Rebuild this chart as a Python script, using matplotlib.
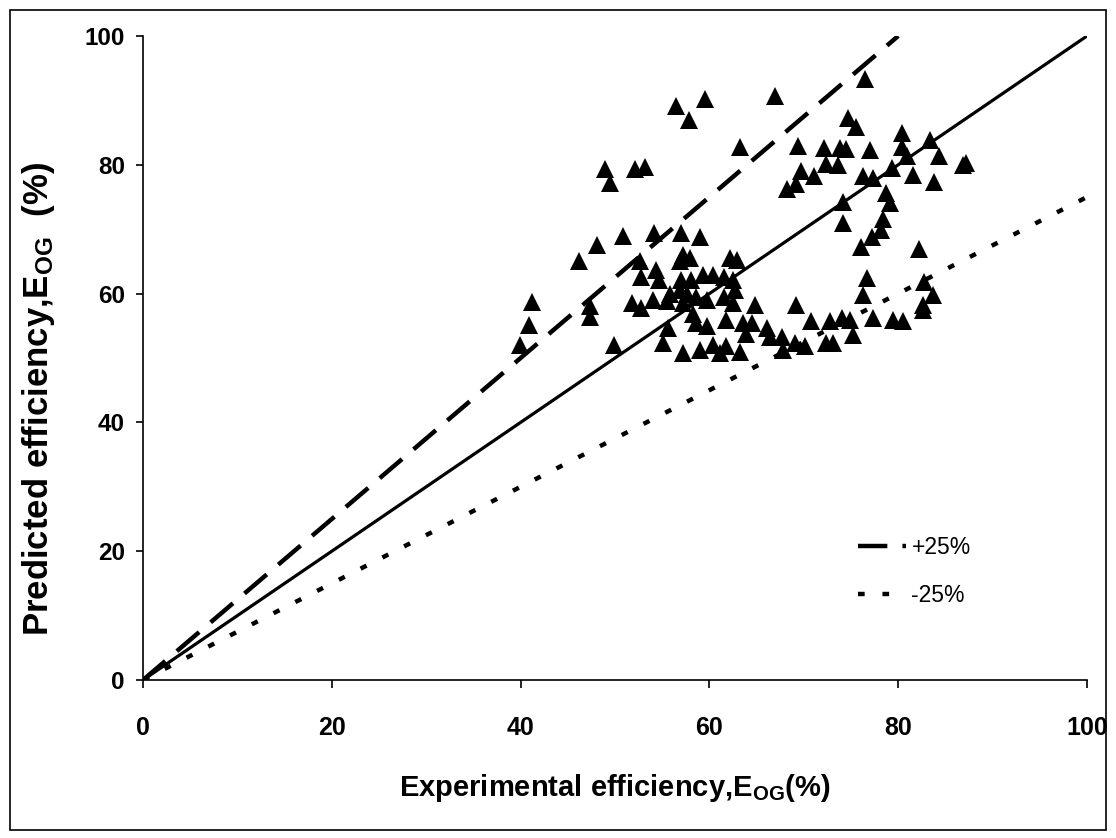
import matplotlib
matplotlib.use("Agg")
import matplotlib.pyplot as plt
from matplotlib.patches import Rectangle

plt.rcParams['font.family'] = ['Liberation Sans', 'DejaVu Sans']
plt.rcParams['mathtext.fontset'] = 'custom'
plt.rcParams['mathtext.rm'] = 'Liberation Sans:bold'
plt.rcParams['mathtext.default'] = 'regular'

# Experimental (x) vs predicted (y) efficiency, %
exp_eff = [39.9, 40.9, 41.2, 46.2, 48.1, 50.8, 54.1, 57.0, 59.0, 47.4, 47.4, 49.9,
           48.9, 49.5, 52.1, 53.2, 52.6, 52.8, 54.3, 54.7, 56.9, 57.9, 57.2,
           57.0, 58.1, 59.3, 60.4, 61.5, 62.5, 51.8, 52.8, 54.0, 55.5, 55.8, 56.9,
           57.2, 58.3, 57.6, 58.6, 59.7, 61.5, 62.7, 55.6, 55.1, 57.2, 58.6, 59.7,
           59.0, 60.4, 61.1, 61.8, 63.2, 62.2, 62.9, 62.5, 64.8, 61.8, 63.6, 64.5,
           66.1, 63.9, 67.7, 66.4, 67.8, 69.1, 70.1, 72.4, 73.1, 75.2, 69.2, 70.8,
           72.8, 74.0, 74.9, 77.3, 79.5, 80.5, 76.7, 76.3, 82.7, 83.7, 82.6, 82.6,
           76.1, 77.2, 78.2, 78.4, 74.2, 74.1, 79.1, 78.7, 82.2,
           56.5, 59.5, 57.8, 67.0, 76.5, 63.2, 74.7, 75.5, 68.2, 69.2, 69.7, 71.1,
           69.4, 72.1, 73.8, 74.5, 72.3, 73.6, 77.0, 76.3, 77.3, 79.3, 80.4, 80.4,
           80.9, 83.4, 84.3, 86.9, 87.2, 81.6, 83.8]
pred_eff = [52.0, 55.1, 58.7, 65.0, 67.5, 68.9, 69.4, 69.4, 68.8, 58.0, 56.4, 52.0,
            79.4, 77.1, 79.4, 79.7, 65.0, 62.6, 63.7, 62.1, 65.0, 65.5, 66.0,
            62.1, 62.1, 62.9, 62.9, 62.6, 62.1, 58.5, 57.7, 59.0, 58.8, 60.0, 60.6,
            58.5, 56.9, 60.0, 59.5, 59.0, 59.5, 60.6, 54.6, 52.3, 50.7, 55.4, 54.9,
            51.2, 52.0, 50.7, 51.8, 51.0, 65.5, 65.2, 58.5, 58.2, 55.9, 55.4, 55.4,
            54.6, 53.8, 53.3, 53.3, 51.2, 52.3, 51.8, 52.3, 52.3, 53.5, 58.2, 55.7,
            55.7, 56.2, 55.9, 56.2, 55.9, 55.7, 62.4, 59.8, 61.8, 59.8, 58.3, 57.5,
            67.3, 68.8, 69.8, 71.6, 70.9, 74.2, 74.1, 75.6, 67.0,
            89.2, 90.2, 86.9, 90.7, 93.4, 82.7, 87.2, 85.9, 76.3, 77.0, 79.0, 78.2,
            82.9, 82.6, 82.6, 82.5, 80.2, 80.0, 82.3, 78.2, 77.9, 79.5, 84.9, 82.8,
            81.3, 83.9, 81.4, 80.0, 80.3, 78.4, 77.4]

# Reference lines
parity_x = [0, 100]
parity_y = [0, 100]
plus25_x = [0, 80]
plus25_y = [0, 100]
minus25_x = [0, 100]
minus25_y = [0, 75]

x_ticks = [0, 20, 40, 60, 80, 100]
y_ticks = [0, 20, 40, 60, 80, 100]

fig = plt.figure(figsize=(11.16, 8.38), dpi=100)
ax = fig.add_axes([143/1116, 1 - 680/838, (1087 - 143)/1116, (680 - 36)/838])

ax.plot(parity_x, parity_y, color='black', lw=2.3, solid_capstyle='butt')
ax.plot(plus25_x, plus25_y, color='black', lw=3.2, dashes=(6.6, 3.4), label='+25%')
ax.plot(minus25_x, minus25_y, color='black', lw=3.2, dashes=(1.5, 4.0), label='-25%')
ax.plot(exp_eff, pred_eff, linestyle='none', marker='^', color='black', ms=13,
        markeredgewidth=0)

ax.set_xlim(0, 100)
ax.set_ylim(0, 100)
ax.set_xticks(x_ticks)
ax.set_yticks(y_ticks)
for s in ['top', 'right']:
    ax.spines[s].set_visible(False)
for s in ['left', 'bottom']:
    ax.spines[s].set_linewidth(1.2)
ax.tick_params(axis='x', direction='out', length=6, width=1.2, pad=20)
ax.tick_params(axis='y', direction='out', length=5, width=1.2, pad=8)
for lab in ax.get_xticklabels():
    lab.set_fontweight('bold')
    lab.set_fontsize(18)
for lab in ax.get_yticklabels():
    lab.set_fontweight('bold')
    lab.set_fontsize(17.5)

ax.set_xlabel('Experimental efficiency,E$_{OG}$(%)', fontsize=21, fontweight='bold')
ax.xaxis.set_label_coords(0.5, -0.143)
ax.set_ylabel('Predicted efficiency,E$_{OG}$  (%)', fontsize=25, fontweight='bold')
ax.yaxis.set_label_coords(-0.091, 0.436)

leg = ax.legend(loc='upper left', bbox_to_anchor=(0.757, 0.224), frameon=False,
                prop={'size': 16.5}, handlelength=2.1,
                handletextpad=0.25, labelspacing=1.1, borderpad=0, borderaxespad=0)

fig.patches.append(Rectangle((10/1116, 8/838), 1 - 20/1116, 1 - 18/838,
                             transform=fig.transFigure, fill=False,
                             edgecolor='black', lw=1.2))

fig.savefig('out.png', dpi=100)
